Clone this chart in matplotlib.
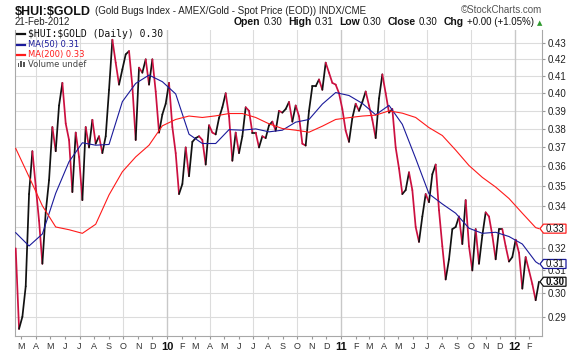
import numpy as np
import pandas as pd
import matplotlib
matplotlib.use("Agg")
import matplotlib.pyplot as plt
import matplotlib.dates as mdates
import matplotlib.transforms as mtransforms
import matplotlib.ticker as mticker
from matplotlib.collections import LineCollection
from matplotlib.patches import Polygon

# ---------------- data (weekly readings, last = 21-Feb-2012) ----------------
price = [0.320, 0.285, 0.290, 0.303, 0.346, 0.368, 0.350, 0.333, 0.313, 0.337,
         0.353, 0.381, 0.368, 0.393, 0.406, 0.383, 0.374, 0.347, 0.378, 0.365,
         0.343, 0.381, 0.370, 0.385, 0.372, 0.376, 0.367, 0.376, 0.402, 0.432,
         0.418, 0.405, 0.414, 0.423, 0.425, 0.404, 0.374, 0.415, 0.412, 0.420,
         0.405, 0.420, 0.401, 0.378, 0.388, 0.394, 0.406, 0.381, 0.367, 0.346,
         0.351, 0.370, 0.355, 0.373, 0.375, 0.376, 0.374, 0.361, 0.382, 0.378,
         0.377, 0.386, 0.392, 0.400, 0.387, 0.363, 0.378, 0.367, 0.376, 0.392,
         0.390, 0.378, 0.378, 0.370, 0.376, 0.375, 0.382, 0.384, 0.379, 0.390,
         0.389, 0.391, 0.395, 0.384, 0.393, 0.387, 0.372, 0.371, 0.390, 0.404,
         0.404, 0.408, 0.402, 0.418, 0.412, 0.406, 0.405, 0.400, 0.391, 0.379,
         0.373, 0.386, 0.394, 0.390, 0.395, 0.401, 0.393, 0.385, 0.375, 0.397,
         0.411, 0.400, 0.389, 0.391, 0.370, 0.359, 0.346, 0.348, 0.357, 0.348,
         0.330, 0.323, 0.335, 0.346, 0.342, 0.356, 0.361, 0.338, 0.321, 0.306,
         0.315, 0.329, 0.330, 0.335, 0.322, 0.343, 0.321, 0.310, 0.329, 0.313,
         0.326, 0.337, 0.335, 0.326, 0.315, 0.329, 0.329, 0.321, 0.314, 0.316,
         0.324, 0.318, 0.302, 0.316, 0.310, 0.304, 0.297, 0.305]

# moving averages read every 4 weeks (plus final day)
ma50 = [0.3273, 0.3211, 0.3267, 0.3464, 0.3625, 0.3725, 0.3712, 0.3716, 0.3952, 0.4057,
        0.4106, 0.4067, 0.3996, 0.3771, 0.3721, 0.3721, 0.3796, 0.3793, 0.3800, 0.3784,
        0.3793, 0.3837, 0.3852, 0.3938, 0.4004, 0.3987, 0.3942, 0.3878, 0.3931, 0.3825,
        0.3642, 0.3461, 0.3411, 0.3366, 0.3294, 0.3270, 0.3275, 0.3255, 0.3220, 0.3139,
        0.3129]
ma200 = [0.3695, 0.3547, 0.3402, 0.3300, 0.3287, 0.3270, 0.3313, 0.3456, 0.3573, 0.3650,
         0.3712, 0.3817, 0.3852, 0.3871, 0.3863, 0.3872, 0.3885, 0.3885, 0.3863, 0.3828,
         0.3802, 0.3793, 0.3782, 0.3815, 0.3852, 0.3862, 0.3871, 0.3876, 0.3900, 0.3887,
         0.3863, 0.3807, 0.3764, 0.3686, 0.3605, 0.3544, 0.3495, 0.3438, 0.3366, 0.3297,
         0.3292]

month_labels = ["M", "A", "M", "J", "J", "A", "S", "O", "N", "D", "10", "F",
                "M", "A", "M", "J", "J", "A", "S", "O", "N", "D", "11", "F",
                "M", "A", "M", "J", "J", "A", "S", "O", "N", "D", "12", "F"]
ytick_values = [0.29, 0.30, 0.31, 0.32, 0.33, 0.34, 0.35, 0.36, 0.37, 0.38,
                0.39, 0.40, 0.41, 0.42, 0.43]
ytick_labels = ["0.29", "0.30", "0.31", "0.32", "", "0.34", "0.35", "0.36", "0.37",
                "0.38", "0.39", "0.40", "0.41", "0.42", "0.43"]

dates = pd.date_range(end="2012-02-21", periods=len(price), freq="7D")
ma_dates = list(dates[::4]) + [dates[-1]]
month_dates = pd.date_range("2009-03-01", periods=len(month_labels), freq="MS")

# ---------------- figure ----------------
W, H = 580, 352
fig = plt.figure(figsize=(W / 100, H / 100), dpi=100)
fig.patch.set_facecolor("white")
L, R, T, B = 15, 542, 30, 336
ax = fig.add_axes([L / W, (H - B) / H, (R - L) / W, (B - T) / H])
ax.set_axisbelow(True)

ax.set_yscale("log")
ax.set_ylim(0.2821, 0.4381)
ax.set_xlim(mdates.date2num(pd.Timestamp("2009-02-15 12:00")),
            mdates.date2num(pd.Timestamp("2012-02-27 08:00")))

# grid
for v in ytick_values:
    ax.axhline(v, color="#dcdcdc", lw=0.8, zorder=0)
for d in month_dates:
    if d.month in (1, 4, 7, 10):
        ax.axvline(mdates.date2num(d), color="#c8c8c8" if d.month == 1 else "#dcdcdc",
                   lw=1.0 if d.month == 1 else 0.8, zorder=0)

# price line coloured by direction
xn = mdates.date2num(dates)
pts = np.column_stack([xn, price])
segs = np.stack([pts[:-1], pts[1:]], axis=1)
cols = ["#111111" if price[i + 1] >= price[i] else "#cc1040" for i in range(len(price) - 1)]
lc = LineCollection(segs, colors=cols, linewidths=1.25, zorder=3, capstyle="round",
                    joinstyle="round")
ax.add_collection(lc)

ax.plot(ma_dates, ma50, color="#1a1a9a", lw=0.8, zorder=4)
ax.plot(ma_dates, ma200, color="#ff1a1a", lw=0.8, zorder=4)

# axes styling
ax.spines["top"].set_visible(False)
for s in ["left", "right", "bottom"]:
    ax.spines[s].set_color("#a8a8a8")
    ax.spines[s].set_linewidth(0.8)

ax.yaxis.tick_right()
ax.yaxis.set_major_locator(mticker.FixedLocator(ytick_values))
ax.yaxis.set_minor_locator(mticker.NullLocator())
ax.yaxis.set_major_formatter(mticker.FixedFormatter(ytick_labels))
ax.tick_params(axis="y", which="major", length=2, color="#999999", pad=2,
               labelsize=7, labelcolor="#222222")

ax.set_xticks(mdates.date2num(month_dates))
ax.set_xticklabels(month_labels)
ax.xaxis.set_minor_locator(mticker.NullLocator())
ax.tick_params(axis="x", which="major", length=2.5, color="#999999", pad=2,
               labelsize=6.5, labelcolor="#333333")
for lab in ax.get_xticklabels():
    lab.set_fontfamily("Liberation Sans")
    if lab.get_text().isdigit():
        lab.set_fontweight("bold")
        lab.set_fontsize(8)
        lab.set_color("#111111")
for lab in ax.get_yticklabels():
    lab.set_fontfamily("Liberation Sans")

# value markers on right
blend = mtransforms.blended_transform_factory(ax.transAxes, ax.transData)


def marker(val, text, edge, bold=False):
    off = mtransforms.ScaledTranslation(1.0, val, blend)
    tr = fig.dpi_scale_trans + off
    verts = np.array([[-2, 0], [1.5, 4.5], [24, 4.5], [24, -4.5], [1.5, -4.5]]) / 100.0
    p = Polygon(verts, closed=True, transform=tr, facecolor="white", edgecolor=edge,
                lw=0.9, clip_on=False, zorder=10)
    ax.add_patch(p)
    ax.text(1.0, val, text,
            transform=blend + mtransforms.ScaledTranslation(0.13, 0, fig.dpi_scale_trans),
            ha="center", va="center", fontsize=7, family="Liberation Sans",
            fontweight="bold" if bold else "normal", color="#111111", zorder=11, clip_on=False)


marker(ma200[-1], "0.33", "#ff2020")
marker(ma50[-1], "0.31", "#1a1a9a")
marker(price[-1], "0.30", "#111111", bold=True)

# ---------------- header texts (pixel coordinates) ----------------
ID = mtransforms.IdentityTransform()
fig.canvas.draw()
rend = fig.canvas.get_renderer()


def px(x, y_img, s, **kw):
    return fig.text(x, H - y_img, s, transform=ID, **kw)


def width(t):
    return t.get_window_extent(renderer=rend).width


t1 = px(15, 15, r"\$HUI:\$GOLD", fontsize=9, fontweight="bold", family="Liberation Sans",
        va="baseline", color="#111111")
px(15 + width(t1) + 4, 14, "(Gold Bugs Index - AMEX/Gold - Spot Price (EOD)) INDX/CME",
   fontsize=7, family="Liberation Sans", va="baseline", color="#222222")
px(542, 13, "\u00a9StockCharts.com", fontsize=7, family="Liberation Sans", va="baseline",
   ha="right", color="#555555")
px(15, 25, "21-Feb-2012", fontsize=7, family="Liberation Sans", va="baseline", color="#222222")

pieces = [("Open", True), ("0.30", False), ("High", True), ("0.31", False),
          ("Low", True), ("0.30", False), ("Close", True), ("0.30", False),
          ("Chg", True), ("+0.00 (+1.05%)", False)]
objs = []
for s, b in pieces:
    objs.append(px(0, 25, s, fontsize=7.5 if b else 7, family="Liberation Sans",
                   fontweight="bold" if b else "normal", va="baseline", color="#111111"))
tri = px(0, 25, "\u25b2", fontsize=5, family="DejaVu Sans", va="baseline", color="#2e9a2e")
gaps = [3 if b else 6 for _, b in pieces]
total = sum(width(o) for o in objs) + sum(gaps[:-1]) + 3 + width(tri)
x = 542 - total
for k, o in enumerate(objs):
    o.set_x(x)
    x += width(o) + (gaps[k] if k < len(objs) - 1 else 3)
tri.set_x(x)

# ---------------- legend ----------------
leg_rows = [(34, "$HUI:$GOLD (Daily) 0.30", "#111111", "DejaVu Sans Mono", 7),
            (44.5, "MA(50) 0.31", "#1a1a9a", "DejaVu Sans", 6),
            (54.5, "MA(200) 0.33", "#ff1a1a", "DejaVu Sans", 6)]
for yy, s, c, fam, fs in leg_rows:
    fig.add_artist(plt.Line2D([17, 25], [H - yy, H - yy], transform=ID, color=c, lw=1.6))
    px(27.5, yy, s.replace("$", r"\$"), fontsize=fs, family=fam, va="center", color=c)
for k, hh in enumerate([4, 6, 5]):
    fig.add_artist(plt.Rectangle((17.5 + k * 2.6, H - 67), 1.8, hh, transform=ID,
                                 color="#555555", lw=0))
px(27.5, 64.5, "Volume undef", fontsize=6, family="DejaVu Sans", va="center", color="#444444")

fig.savefig("out.png", dpi=100, facecolor="white")
